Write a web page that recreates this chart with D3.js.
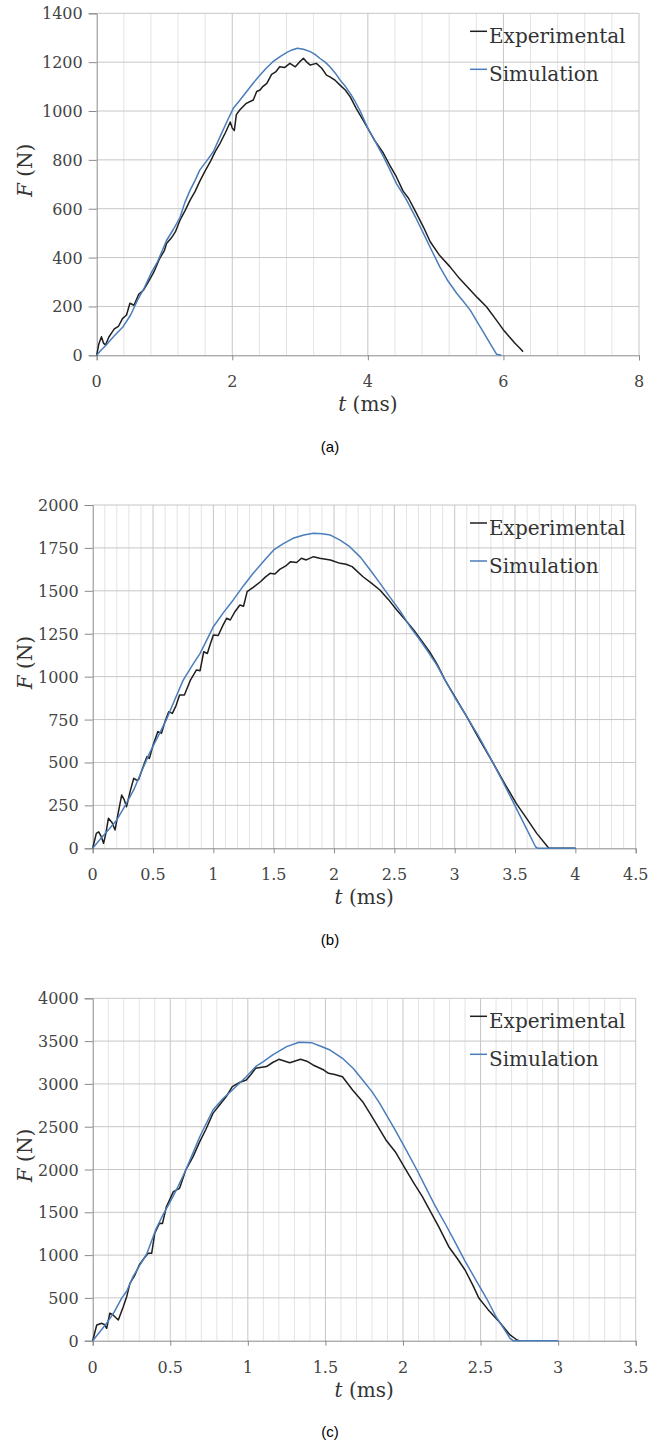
<!DOCTYPE html>
<html lang="en">
  <head>
    <meta charset="UTF-8" />
    <title>Force vs time</title>
    <style>
      body {
        margin: 0;
        padding: 0;
        background: #fff;
      }
      svg {
        display: block;
      }
      .tick-label {
        font-family: 'DejaVu Serif', serif;
        font-size: 16px;
        fill: #444;
      }
      .axis-title,
      .legend-text {
        font-family: 'DejaVu Serif', serif;
        font-size: 20px;
        fill: #333;
      }
      .caption {
        font-family: Arial, 'Liberation Sans', sans-serif;
        font-size: 15px;
        fill: #000;
      }
    </style>
  </head>

  <body>
    <script src="https://cdn.jsdelivr.net/npm/d3@7"></script>
    <script>
      // series names
      const seriesNames = ['Experimental', 'Simulation'];

      // panel (a): [t (ms), F (N)]
      const expA = [
        [0, 0], [0.03, 45], [0.07, 76], [0.1, 50], [0.13, 42], [0.18, 75], [0.22, 92], [0.26, 108],
        [0.32, 118], [0.38, 150], [0.44, 165], [0.49, 213], [0.55, 205], [0.62, 250], [0.69, 267],
        [0.76, 300], [0.85, 345], [0.93, 397], [1.0, 430], [1.03, 458], [1.1, 480], [1.16, 505],
        [1.23, 554], [1.3, 590], [1.38, 636], [1.45, 670], [1.52, 712], [1.6, 755], [1.68, 795],
        [1.75, 835], [1.82, 868], [1.9, 912], [1.97, 955], [2.0, 930], [2.03, 920], [2.06, 985],
        [2.11, 1004], [2.2, 1030], [2.31, 1045], [2.36, 1080], [2.41, 1086], [2.45, 1100],
        [2.51, 1113], [2.58, 1150], [2.64, 1160], [2.7, 1181], [2.77, 1178], [2.85, 1195],
        [2.93, 1181], [2.99, 1200], [3.05, 1216], [3.1, 1200], [3.15, 1188], [3.24, 1195],
        [3.32, 1175], [3.39, 1147], [3.44, 1140], [3.52, 1125], [3.59, 1106], [3.67, 1085],
        [3.74, 1058], [3.83, 1010], [3.93, 963], [4.0, 929], [4.1, 880], [4.23, 827], [4.32, 780],
        [4.42, 731], [4.52, 672], [4.6, 643], [4.7, 590], [4.82, 525], [4.92, 465], [5.05, 412],
        [5.21, 363], [5.35, 315], [5.51, 267], [5.62, 235], [5.75, 199], [5.88, 150], [6.0, 104],
        [6.08, 78], [6.17, 49], [6.24, 30], [6.29, 15]
      ];
      const simA = [
        [0, 0], [0.06, 20], [0.14, 42], [0.26, 80], [0.39, 117], [0.5, 165], [0.6, 225],
        [0.7, 275], [0.8, 335], [0.9, 385], [1.03, 470], [1.13, 515], [1.23, 565], [1.3, 625],
        [1.38, 677], [1.45, 715], [1.52, 758], [1.62, 795], [1.72, 833], [1.82, 895], [1.92, 956],
        [2.015, 1011], [2.1, 1040], [2.21, 1079], [2.31, 1115], [2.41, 1147], [2.5, 1175],
        [2.6, 1202], [2.7, 1222], [2.8, 1239], [2.88, 1250], [2.96, 1257], [3.05, 1253],
        [3.15, 1243], [3.22, 1232], [3.29, 1216], [3.37, 1200], [3.44, 1181], [3.52, 1155],
        [3.59, 1127], [3.67, 1100], [3.74, 1072], [3.81, 1040], [3.88, 1004], [4.0, 929],
        [4.12, 870], [4.23, 813], [4.33, 757], [4.42, 704], [4.5, 668], [4.57, 636], [4.7, 567],
        [4.82, 499], [4.94, 430], [5.06, 363], [5.18, 305], [5.31, 254], [5.41, 220],
        [5.51, 185], [5.6, 143], [5.7, 97], [5.8, 50], [5.9, 4], [5.97, 0]
      ];

      // panel (b)
      const expB = [
        [0, 0], [0.03, 87], [0.05, 96], [0.07, 70], [0.09, 29], [0.11, 90], [0.13, 175],
        [0.16, 150], [0.185, 107], [0.21, 200], [0.24, 310], [0.26, 285], [0.28, 242],
        [0.31, 330], [0.34, 408], [0.36, 398], [0.38, 400], [0.42, 480], [0.45, 534],
        [0.47, 524], [0.5, 600], [0.54, 680], [0.57, 670], [0.6, 740], [0.63, 796], [0.66, 786],
        [0.69, 830], [0.72, 893], [0.76, 893], [0.81, 980], [0.86, 1039], [0.89, 1035],
        [0.92, 1145], [0.95, 1135], [0.97, 1180], [1.0, 1243], [1.04, 1240], [1.08, 1300],
        [1.11, 1340], [1.14, 1330], [1.18, 1380], [1.22, 1417], [1.25, 1410], [1.28, 1495],
        [1.33, 1520], [1.39, 1553], [1.43, 1580], [1.47, 1602], [1.51, 1598], [1.55, 1625],
        [1.6, 1645], [1.64, 1670], [1.69, 1665], [1.73, 1690], [1.77, 1680], [1.83, 1699],
        [1.88, 1690], [1.97, 1680], [2.05, 1660], [2.1, 1655], [2.15, 1641], [2.24, 1582],
        [2.31, 1545], [2.38, 1505], [2.45, 1450], [2.52, 1388], [2.59, 1332], [2.66, 1272],
        [2.73, 1205], [2.8, 1136], [2.86, 1065], [2.92, 980], [3.0, 885], [3.1, 767],
        [3.2, 640], [3.32, 495], [3.42, 370], [3.51, 262], [3.6, 170], [3.68, 87], [3.78, 0],
        [4.0, 0]
      ];
      const simB = [
        [0, 0], [0.08, 68], [0.14, 115], [0.2, 165], [0.27, 250], [0.34, 340], [0.4, 440],
        [0.47, 553], [0.54, 650], [0.61, 748], [0.68, 865], [0.75, 980], [0.82, 1060],
        [0.89, 1136], [0.95, 1220], [1.0, 1291], [1.08, 1370], [1.165, 1447], [1.25, 1530],
        [1.33, 1602], [1.42, 1675], [1.5, 1738], [1.58, 1775], [1.66, 1806], [1.75, 1825],
        [1.83, 1835], [1.9, 1833], [1.97, 1825], [2.05, 1795], [2.13, 1757], [2.22, 1695],
        [2.3, 1621], [2.38, 1545], [2.46, 1466], [2.55, 1380], [2.63, 1291], [2.7, 1225],
        [2.77, 1155], [2.85, 1070], [2.92, 980], [3.0, 880], [3.1, 767], [3.2, 650],
        [3.29, 534], [3.39, 400], [3.49, 262], [3.58, 135], [3.67, 9], [3.69, 0], [4.0, 0]
      ];

      // panel (c)
      const expC = [
        [0, 0], [0.026, 183], [0.058, 203], [0.075, 190], [0.09, 145], [0.11, 320], [0.125, 310],
        [0.143, 280], [0.165, 242], [0.197, 397], [0.22, 520], [0.24, 670], [0.27, 760],
        [0.3, 884], [0.33, 960], [0.357, 1021], [0.38, 1021], [0.4, 1255], [0.43, 1371],
        [0.45, 1370], [0.475, 1565], [0.52, 1741], [0.56, 1780], [0.6, 1994], [0.647, 2150],
        [0.69, 2325], [0.73, 2470], [0.775, 2656], [0.82, 2760], [0.86, 2850], [0.9, 2967],
        [0.95, 3020], [0.99, 3046], [1.02, 3110], [1.05, 3182], [1.12, 3202], [1.16, 3250],
        [1.2, 3287], [1.27, 3248], [1.34, 3287], [1.38, 3265], [1.42, 3221], [1.49, 3162],
        [1.52, 3124], [1.56, 3110], [1.61, 3084], [1.675, 2929], [1.74, 2792], [1.8, 2617],
        [1.89, 2345], [1.95, 2208], [2.02, 1994], [2.07, 1840], [2.125, 1682], [2.18, 1500],
        [2.23, 1332], [2.295, 1098], [2.35, 960], [2.4, 826], [2.45, 650], [2.49, 495],
        [2.55, 360], [2.62, 222], [2.69, 67], [2.735, 8], [2.75, 0]
      ];
      const simC = [
        [0, 0], [0.09, 203], [0.14, 340], [0.186, 495], [0.22, 580], [0.26, 748], [0.3, 870],
        [0.35, 1021], [0.41, 1313], [0.45, 1460], [0.5, 1624], [0.55, 1800], [0.6, 1994],
        [0.69, 2383], [0.775, 2695], [0.84, 2830], [0.9, 2929], [0.99, 3084], [1.05, 3201],
        [1.1, 3260], [1.16, 3338], [1.25, 3435], [1.33, 3486], [1.41, 3482], [1.47, 3440],
        [1.53, 3396], [1.61, 3299], [1.68, 3180], [1.74, 3046], [1.8, 2910], [1.85, 2773],
        [1.95, 2461], [2.02, 2230], [2.09, 1994], [2.15, 1780], [2.21, 1565], [2.28, 1340],
        [2.34, 1138], [2.4, 930], [2.47, 709], [2.54, 490], [2.6, 280], [2.65, 140], [2.69, 28],
        [2.71, 0], [3.0, 0]
      ];

      // tick values
      const xTicksA = [0, 2, 4, 6, 8];
      const yTicksA = [0, 200, 400, 600, 800, 1000, 1200, 1400];
      const xTicksB = [0, 0.5, 1, 1.5, 2, 2.5, 3, 3.5, 4, 4.5];
      const yTicksB = [0, 250, 500, 750, 1000, 1250, 1500, 1750, 2000];
      const xTicksC = [0, 0.5, 1, 1.5, 2, 2.5, 3, 3.5];
      const yTicksC = [0, 500, 1000, 1500, 2000, 2500, 3000, 3500, 4000];
      const captions = ['(a)', '(b)', '(c)'];

      const colors = ['#1e1e1e', '#4a7dbb'];

      const width = 660;
      const height = 1440;
      const svg = d3.select('body').append('svg').attr('width', width).attr('height', height);

      const panels = [
        { left: 96.7, right: 639, top: 13.3, bottom: 355.3, xMax: 8, yMax: 1400, minorStep: 0.4,
          xTicks: xTicksA, yTicks: yTicksA, exp: expA, sim: simA, caption: captions[0], capY: 452 },
        { left: 92.7, right: 635.7, top: 505, bottom: 848.3, xMax: 4.5, yMax: 2000, minorStep: 0.1,
          xTicks: xTicksB, yTicks: yTicksB, exp: expB, sim: simB, caption: captions[1], capY: 945 },
        { left: 92.7, right: 635.7, top: 998.3, bottom: 1340.7, xMax: 3.5, yMax: 4000, minorStep: 0.1,
          xTicks: xTicksC, yTicks: yTicksC, exp: expC, sim: simC, caption: captions[2], capY: 1437 }
      ];

      panels.forEach((p) => {
        const x = d3.scaleLinear().domain([0, p.xMax]).range([p.left, p.right]);
        const y = d3.scaleLinear().domain([0, p.yMax]).range([p.bottom, p.top]);
        const g = svg.append('g');

        // minor vertical grid
        const minors = d3.range(0, p.xMax + 1e-9, p.minorStep).filter((v) => !p.xTicks.some((t) => Math.abs(t - v) < 1e-6));
        g.selectAll('.minor')
          .data(minors)
          .enter()
          .append('line')
          .attr('x1', (d) => x(d))
          .attr('x2', (d) => x(d))
          .attr('y1', p.top)
          .attr('y2', p.bottom)
          .attr('stroke', '#e3e3e3')
          .attr('stroke-width', 1);

        // major grid
        g.selectAll('.vmajor')
          .data(p.xTicks.slice(1))
          .enter()
          .append('line')
          .attr('x1', (d) => x(d))
          .attr('x2', (d) => x(d))
          .attr('y1', p.top)
          .attr('y2', p.bottom)
          .attr('stroke', '#c6c6c6');
        g.selectAll('.hmajor')
          .data(p.yTicks.slice(1))
          .enter()
          .append('line')
          .attr('x1', p.left)
          .attr('x2', p.right)
          .attr('y1', (d) => y(d))
          .attr('y2', (d) => y(d))
          .attr('stroke', '#c6c6c6');

        // axes
        const xAxis = d3.axisBottom(x).tickValues(p.xTicks).tickSize(5).tickFormat('');
        const yAxis = d3.axisLeft(y).tickValues(p.yTicks).tickSize(8).tickFormat('');
        const gx = g.append('g').attr('transform', `translate(0,${p.bottom})`).call(xAxis);
        const gy = g.append('g').attr('transform', `translate(${p.left},0)`).call(yAxis);
        [gx, gy].forEach((a) => {
          a.selectAll('path').attr('stroke', '#8a8a8a');
          a.selectAll('line').attr('stroke', '#8a8a8a');
        });

        // tick labels
        g.selectAll('.xl')
          .data(p.xTicks)
          .enter()
          .append('text')
          .attr('class', 'tick-label')
          .attr('x', (d) => x(d))
          .attr('y', p.bottom + 32)
          .attr('text-anchor', 'middle')
          .text((d) => d);
        g.selectAll('.yl')
          .data(p.yTicks)
          .enter()
          .append('text')
          .attr('class', 'tick-label')
          .attr('x', p.left - 14)
          .attr('y', (d) => y(d) + 6)
          .attr('text-anchor', 'end')
          .text((d) => d);

        // axis titles
        const xt = g.append('text')
          .attr('class', 'axis-title')
          .attr('x', (p.left + p.right) / 2)
          .attr('y', p.bottom + 56)
          .attr('text-anchor', 'middle');
        xt.append('tspan').attr('font-style', 'italic').text('t');
        xt.append('tspan').text(' (ms)');

        const cy = (p.top + p.bottom) / 2 - 14;
        const yt = g.append('text')
          .attr('class', 'axis-title')
          .attr('transform', `translate(32,${cy}) rotate(-90)`)
          .attr('text-anchor', 'middle');
        yt.append('tspan').attr('font-style', 'italic').text('F');
        yt.append('tspan').text(' (N)');

        // lines
        const line = d3.line().x((d) => x(d[0])).y((d) => y(d[1]));
        [p.exp, p.sim].forEach((s, i) => {
          g.append('path')
            .datum(s)
            .attr('d', line)
            .attr('fill', 'none')
            .attr('stroke', colors[i])
            .attr('stroke-width', 1.5)
            .attr('stroke-linejoin', 'round');
        });

        // legend
        seriesNames.forEach((name, i) => {
          const by = p.top + 30 + i * 38;
          g.append('line')
            .attr('x1', 470)
            .attr('x2', 487)
            .attr('y1', by - 12)
            .attr('y2', by - 12)
            .attr('stroke', colors[i])
            .attr('stroke-width', 1.5);
          g.append('text').attr('class', 'legend-text').attr('x', 489).attr('y', by).text(name);
        });

        // caption
        svg.append('text')
          .attr('class', 'caption')
          .attr('x', 330)
          .attr('y', p.capY)
          .attr('text-anchor', 'middle')
          .text(p.caption);
      });
    </script>
  </body>
</html>
